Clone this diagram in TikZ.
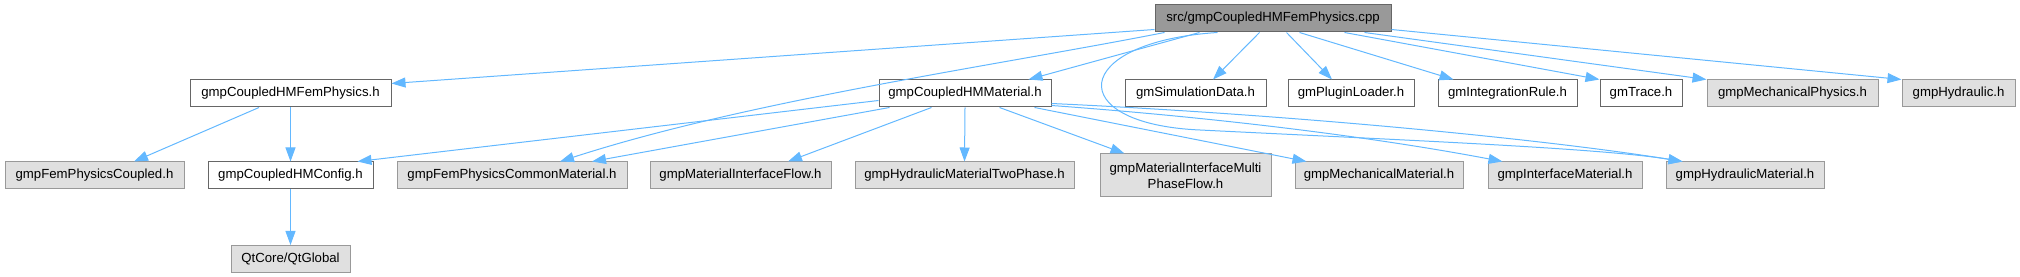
\documentclass[tikz,border=0pt]{standalone}
\usepackage{fontspec}
\setmainfont{Liberation Sans}
\usepackage{tikz}
\usetikzlibrary{arrows.meta,calc}
\usepackage{xcolor}
\definecolor{edgeBlue}{HTML}{63B8FF}
\definecolor{frameDark}{HTML}{666666}
\definecolor{frameGrey}{HTML}{999999}
\definecolor{extFill}{HTML}{E0E0E0}
\definecolor{mainFill}{HTML}{999999}
\tikzset{
  base/.style={font=\fontsize{9.9}{11.7}\selectfont, text=black, inner sep=0pt, minimum height=20.25pt, align=center, line width=0.75pt},
  file/.style={base, draw=frameDark, fill=white},
  extfile/.style={base, draw=frameGrey, fill=extFill},
  mainfile/.style={base, draw=frameDark, fill=mainFill},
  dep/.style={-{Triangle[length=10.5pt,width=7.5pt]}, line width=0.75pt, draw=edgeBlue},
}

\begin{document}
\begin{tikzpicture}[x=0.75pt,y=-0.75pt]
  \useasboundingbox (0,0) rectangle (2020,277);

  \node[mainfile,minimum width=177pt] (root) at (1273,18.5) {src/gmpCoupledHMFemPhysics.cpp};

  \node[file,minimum width=150.75pt] (hA) at (290.5,93.5) {gmpCoupledHMFemPhysics.h};
  \node[file,minimum width=129pt] (hB) at (965,93.5) {gmpCoupledHMMaterial.h};
  \node[file,minimum width=105.75pt] (simdata) at (1195.5,93.5) {gmSimulationData.h};
  \node[file,minimum width=94.5pt] (plugin) at (1351,93.5) {gmPluginLoader.h};
  \node[file,minimum width=104.25pt] (intrule) at (1507.5,93.5) {gmIntegrationRule.h};
  \node[file,minimum width=61.5pt] (trace) at (1641,93.5) {gmTrace.h};
  \node[extfile,minimum width=128.25pt] (mechphys) at (1792.5,93.5) {gmpMechanicalPhysics.h};
  \node[extfile,minimum width=84.75pt] (hydraulic) at (1958.5,93.5) {gmpHydraulic.h};

  \node[extfile,minimum width=134.25pt] (femcoupled) at (94.5,175.5) {gmpFemPhysicsCoupled.h};
  \node[file,minimum width=123.75pt] (config) at (290.5,175.5) {gmpCoupledHMConfig.h};
  \node[extfile,minimum width=172.5pt] (commonmat) at (512,175.5) {gmpFemPhysicsCommonMaterial.h};
  \node[extfile,minimum width=135.75pt] (ifaceflow) at (740.5,175.5) {gmpMaterialInterfaceFlow.h};
  \node[extfile,minimum width=164.25pt] (twophase) at (964.5,175.5) {gmpHydraulicMaterialTwoPhase.h};
  \node[extfile,minimum width=128.25pt,minimum height=32.25pt] (multiphase) at (1185.5,175.5) {gmpMaterialInterfaceMulti\\PhaseFlow.h};
  \node[extfile,minimum width=126pt] (mechmat) at (1379,175.5) {gmpMechanicalMaterial.h};
  \node[extfile,minimum width=115.5pt] (ifacemat) at (1565,175.5) {gmpInterfaceMaterial.h};
  \node[extfile,minimum width=118.5pt] (hydmat) at (1745,175.5) {gmpHydraulicMaterial.h};

  \node[extfile,minimum width=89.25pt] (qt) at (290.5,259) {QtCore/QtGlobal};

  \draw[dep] ($(root.south west)+(0,-3)$) -- ($(hA.north east)+(0,4)$);
  \draw[dep] ($(root.south west)+(10,0)$) .. controls (1000,65) and (750,100) .. ($(commonmat.north)+(48,0)$);
  \draw[dep] ($(root.south west)+(45,0)$) -- ($(hB.north east)+(-23,0)$);
  \draw[dep] ($(root.south west)+(63,0)$) .. controls (1070,42) and (1062,124) .. (1200,130)
    .. controls (1400,140) and (1600,148) .. ($(hydmat.north west)+(17,0)$);
  \draw[dep] ($(root.south west)+(105,0)$) -- ($(simdata.north)+(17.5,0)$);
  \draw[dep] ($(root.south west)+(132,0)$) -- ($(plugin.north)+(-19,0)$);
  \draw[dep] ($(root.south west)+(145,0)$) -- ($(intrule.north west)+(16,0)$);
  \draw[dep] ($(root.south west)+(190,0)$) -- (trace.north west);
  \draw[dep] ($(root.south west)+(210,0)$) -- (mechphys.north west);
  \draw[dep] ($(root.south east)+(0,-3)$) -- (hydraulic.north west);

  \draw[dep] ($(hA.south)+(-31.5,0)$) -- ($(femcoupled.north)+(39.5,0)$);
  \draw[dep] (hA.south) -- (config.north);
  \draw[dep] ($(hB.south west)+(0,-7)$) -- ($(config.north east)+(-16,0)$);
  \draw[dep] ($(hB.south west)+(11,0)$) -- ($(commonmat.north)+(80,0)$);
  \draw[dep] ($(hB.south west)+(53,0)$) -- ($(ifaceflow.north)+(47.5,0)$);
  \draw[dep] (hB.south) -- (twophase.north);
  \draw[dep] ($(hB.south west)+(121,0)$) -- ($(multiphase.north west)+(25,0)$);
  \draw[dep] ($(hB.south west)+(156,0)$) -- ($(mechmat.north west)+(12,0)$);
  \draw[dep] ($(hB.south east)+(0,-2)$) .. controls (1250,120) and (1400,142) .. ($(ifacemat.north west)+(15,0)$);
  \draw[dep] ($(hB.south east)+(0,-4)$) .. controls (1300,115) and (1550,140) .. ($(hydmat.north west)+(17,0)$);

  \draw[dep] (config.south) -- (qt.north);
\end{tikzpicture}
\end{document}
